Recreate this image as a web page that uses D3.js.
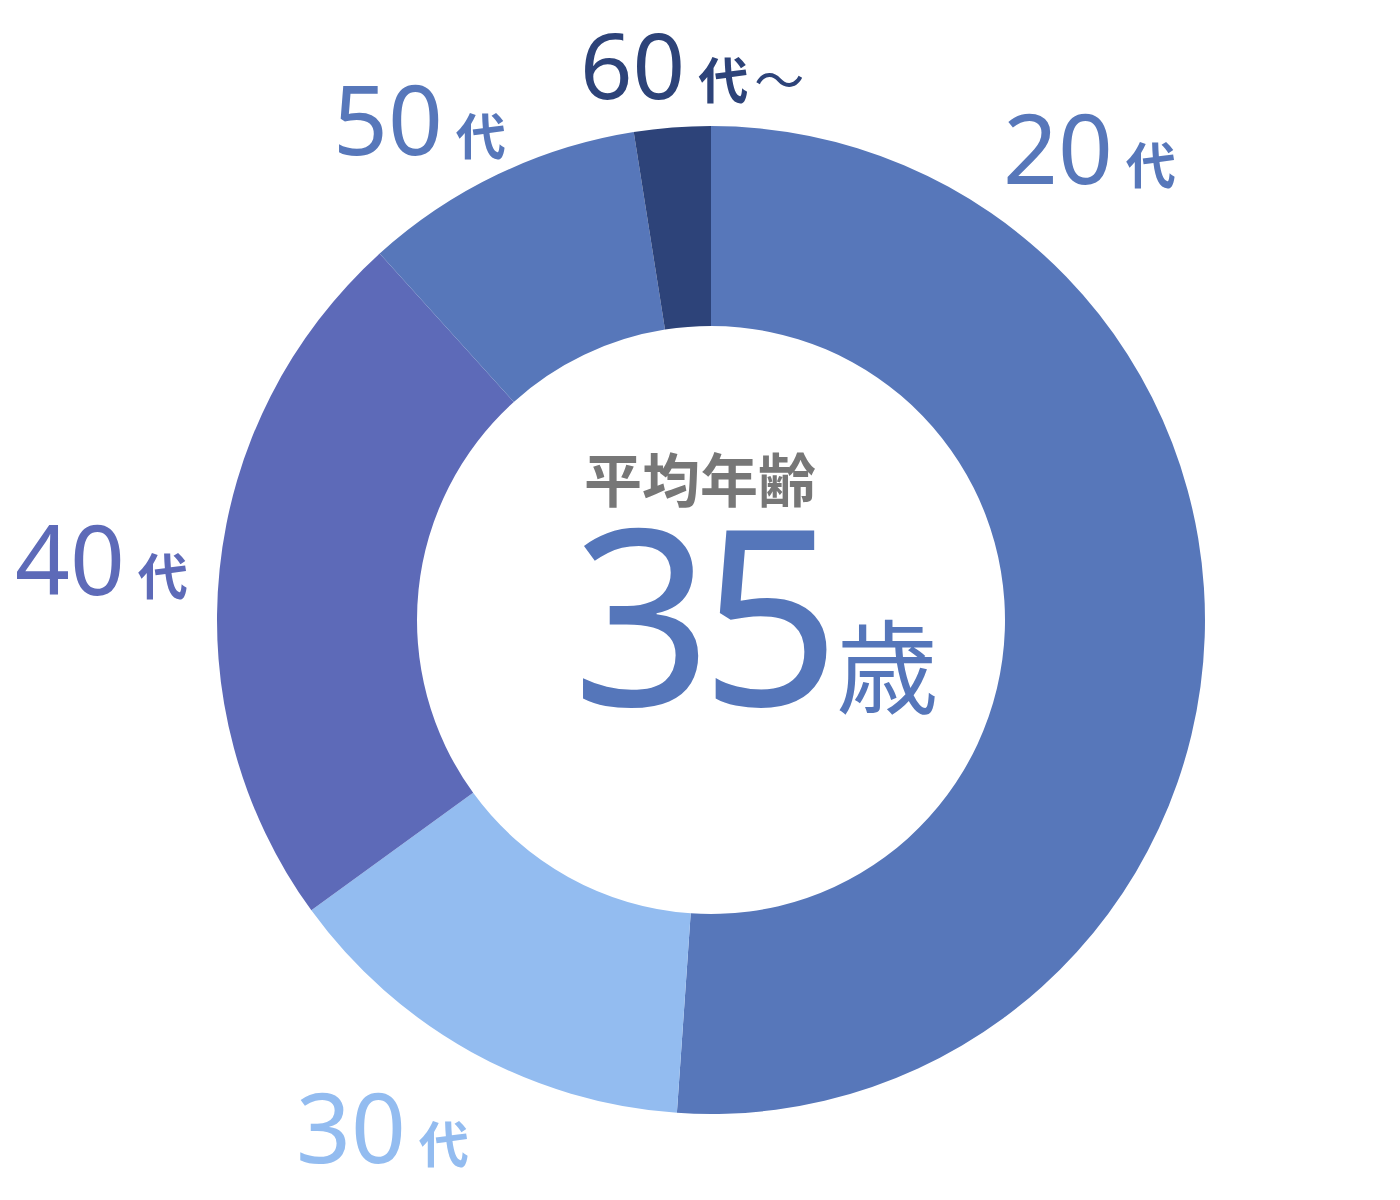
<!DOCTYPE html>
<html>
<head>
<meta charset="utf-8">
<script src="https://cdn.jsdelivr.net/npm/d3@7"></script>
<style>
  body { margin: 0; background: #fff; }
  svg { display: block; }
</style>
</head>
<body>
<svg width="1400" height="1200"></svg>
<script>
// age groups, share of staff (%)
var ageGroups = ["20", "30", "40", "50", "60"];
var shares = [51.1, 13.9, 23.3, 9.2, 2.5];
var groupColors = ["#5777ba", "#93bcf0", "#5d6ab8", "#5777ba", "#2d4379"];
var suffixes = ["代", "代", "代", "代", "代"];
var tails = ["", "", "", "", "～"];
var avgAge = "35";

// where each outside label sits (left x, baseline y) and its digit size
var labelSpots = [[1003, 184], [296, 1163], [15, 595], [333, 155], [580, 99]];
var labelSizes = [96, 96, 96, 96, 92];

var svg = d3.select("svg");
var cx = 711, cy = 620;
var outerR = 494, innerR = 294;

var pie = d3.pie().sort(null).value(function(d) { return d; });
var arc = d3.arc().innerRadius(innerR).outerRadius(outerR);

var color = d3.scaleOrdinal().domain(ageGroups).range(groupColors);

var g = svg.append("g")
    .attr("transform", "translate(" + cx + "," + cy + ")");

g.selectAll(".slice")
    .data(pie(shares))
    .enter().append("path")
    .attr("class", "slice")
    .attr("d", arc)
    .attr("fill", function(d, i) { return color(ageGroups[i]); });

var labels = svg.selectAll(".lbl")
    .data(ageGroups)
    .enter().append("text")
    .attr("class", "lbl")
    .attr("x", function(d, i) { return labelSpots[i][0]; })
    .attr("y", function(d, i) { return labelSpots[i][1]; })
    .attr("fill", function(d) { return color(d); });

labels.append("tspan")
    .style("font-family", "'Noto Sans', sans-serif")
    .style("font-size", function(d, i) { return labelSizes[i] + "px"; })
    .text(function(d) { return d; });

labels.append("tspan")
    .attr("dx", 13)
    .style("font-family", "'Noto Sans CJK JP', sans-serif")
    .style("font-weight", "bold")
    .style("font-size", "50px")
    .text(function(d, i) { return suffixes[i]; });

labels.append("tspan")
    .attr("dx", 6)
    .style("font-family", "'Noto Sans CJK JP', sans-serif")
    .style("font-size", "50px")
    .text(function(d, i) { return tails[i]; });

// centre text
svg.append("text")
    .attr("x", 700)
    .attr("y", 502)
    .attr("text-anchor", "middle")
    .attr("fill", "#777777")
    .style("font-family", "'Noto Sans CJK JP', sans-serif")
    .style("font-weight", "bold")
    .style("font-size", "58px")
    .text("平均年齢");

var big = svg.append("text")
    .attr("x", 572)
    .attr("y", 706)
    .attr("fill", "#5576ba");

big.append("tspan")
    .style("font-family", "'Noto Sans', sans-serif")
    .style("font-size", "245px")
    .style("letter-spacing", "-12px")
    .text(avgAge);

big.append("tspan")
    .attr("dx", 8)
    .style("font-family", "'Noto Sans CJK JP', sans-serif")
    .style("font-size", "102px")
    .text("歳");
</script>
</body>
</html>
